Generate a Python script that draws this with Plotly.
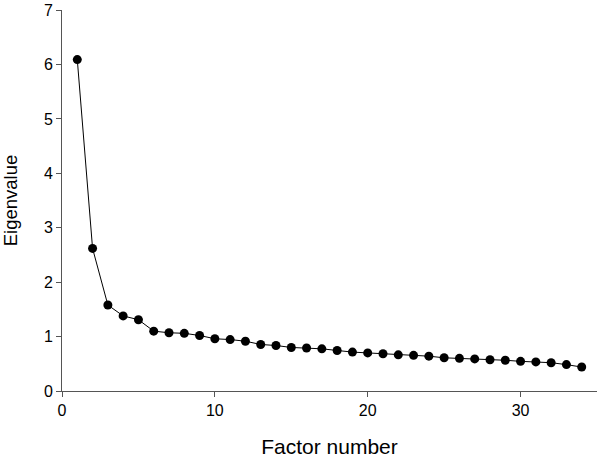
import plotly.graph_objects as go

factor_number = list(range(1, 35))
eigenvalue = [6.09, 2.62, 1.58, 1.38, 1.31, 1.10, 1.07, 1.06, 1.02, 0.96,
              0.945, 0.915, 0.855, 0.836, 0.80, 0.79, 0.775, 0.745, 0.715, 0.70,
              0.685, 0.665, 0.655, 0.64, 0.61, 0.60, 0.59, 0.575, 0.565, 0.545,
              0.535, 0.52, 0.485, 0.44]

x_ticks = [0, 10, 20, 30]
y_ticks = [0, 1, 2, 3, 4, 5, 6, 7]

fig = go.Figure(
    go.Scatter(
        x=factor_number,
        y=eigenvalue,
        mode="lines+markers",
        line=dict(color="black", width=1),
        marker=dict(color="black", size=9),
        showlegend=False,
        cliponaxis=False,
    )
)

axis_style = dict(
    showgrid=False,
    zeroline=False,
    showline=True,
    linecolor="#555555",
    linewidth=1,
    ticks="outside",
    ticklen=5,
    tickcolor="#555555",
    automargin=False,
    ticklabeloverflow="allow",
    tickfont=dict(family="Liberation Sans, Arial", size=16, color="black"),
)

fig.update_xaxes(
    range=[0, 35],
    tickvals=x_ticks,
    title_text="Factor number",
    title_standoff=25,
    title_font=dict(family="Liberation Sans, Arial", size=21, color="black"),
    **axis_style
)
fig.update_yaxes(
    range=[0, 7.001],
    tickvals=y_ticks,
    title_text="Eigenvalue",
    title_standoff=30,
    title_font=dict(family="Liberation Sans, Arial", size=18.5, color="black"),
    **axis_style
)

fig.update_layout(
    width=600,
    height=458,
    margin=dict(l=62, r=3, t=10, b=67),
    plot_bgcolor="white",
    paper_bgcolor="white",
)

# drop the page's default body margin so the figure sits at the window corner
fig.write_html(
    "out.html",
    config={"displayModeBar": False},
    post_script="document.body.style.margin = '0';",
)
